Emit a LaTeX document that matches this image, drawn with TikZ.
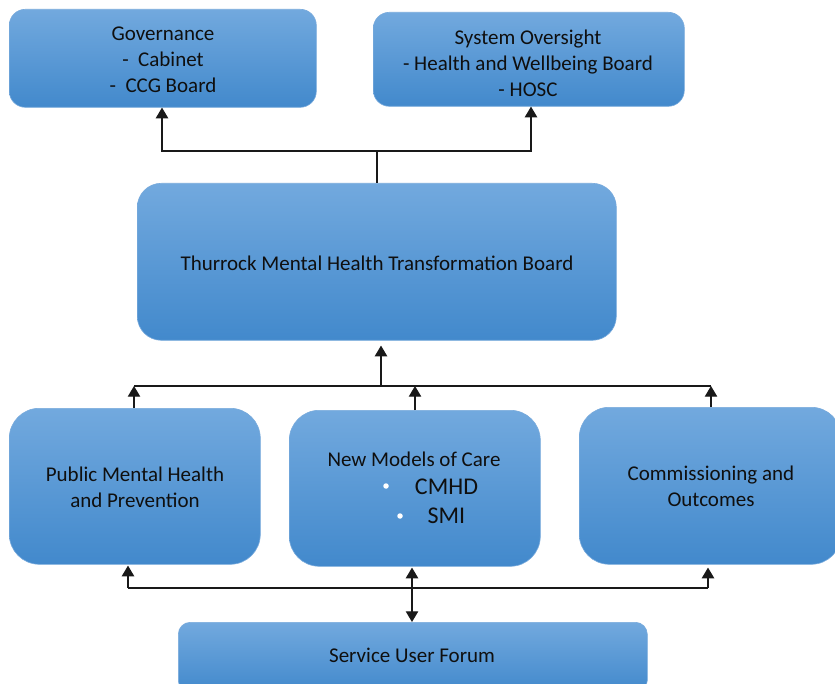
\documentclass[tikz,border=0pt]{standalone}
\usepackage{fontspec}
\setmainfont{Carlito}
\usetikzlibrary{arrows.meta}
\definecolor{boxtop}{RGB}{114,169,222}
\definecolor{boxbot}{RGB}{66,137,204}
\definecolor{boxline}{RGB}{120,170,220}
\definecolor{txt}{RGB}{15,15,15}
\tikzset{
  box/.style={draw=boxline, line width=0.6pt, top color=boxtop, bottom color=boxbot, inner sep=0pt, anchor=north west},
  lbl/.style={text=txt, font=\fontsize{21}{26}\selectfont, align=center, inner sep=0pt},
  big/.style={text=txt, font=\fontsize{24}{28}\selectfont, inner sep=0pt},
  conn/.style={line width=1.4pt, draw=black!90},
  arr/.style={conn, -{Triangle[scale=1.6]}},
  darr/.style={conn, {Triangle[scale=1.6]}-{Triangle[scale=1.6]}},
  dot/.style={circle, fill=white, inner sep=0pt, minimum size=5.5pt}
}
\begin{document}
\begin{tikzpicture}[x=1pt,y=-1pt]
\useasboundingbox (0,0) rectangle (835,684);
\clip (0,0) rectangle (835,684);
\fill[white] (0,0) rectangle (835,684);
% boxes
\node[box, rounded corners=16pt, minimum width=307pt, minimum height=98pt] (gov) at (9,9) {};
\node[box, rounded corners=16pt, minimum width=311pt, minimum height=94pt] (sys) at (373,12) {};
\node[box, rounded corners=24pt, minimum width=479pt, minimum height=157pt] (thr) at (137,183) {};
\node[box, rounded corners=30pt, minimum width=251pt, minimum height=156pt] (pub) at (9,408) {};
\node[box, rounded corners=30pt, minimum width=251pt, minimum height=156pt] (nmc) at (289,410) {};
\node[box, rounded corners=30pt, minimum width=262pt, minimum height=157pt] (com) at (579,407) {};
\node[box, rounded corners=12pt, minimum width=469pt, minimum height=70pt] (suf) at (178,622) {};
% texts
\node[lbl] (govt) at (163,60) {Governance\\-\ \ Cabinet\\-\ \ CCG Board};
\node[lbl] (syst) at (528,63) {System Oversight\\- Health and Wellbeing Board\\- HOSC};
\node[lbl] (thrt) at (377,263) {Thurrock Mental Health Transformation Board};
\node[lbl] (pubt) at (135,487) {Public Mental Health\\and Prevention};
\node[lbl] (nmct) at (414,459) {New Models of Care};
\node[big] (cmhd) at (446.5,487) {CMHD};
\node[big] (smi) at (446.5,516) {SMI};
\node[dot] (d1) at (386,486) {};
\node[dot] (d2) at (400,516) {};
\node[lbl] (comt) at (711,486) {Commissioning and\\Outcomes};
\node[lbl] (suft) at (412,655) {Service User Forum};
% top connectors
\coordinate (tj) at (377,151);
\coordinate (tl) at (162,151);
\coordinate (tr) at (531,151);
\draw[conn] (thr.north -| tj) -- (tj);
\draw[arr] (tj) -- (tl) -- (tl |- gov.south);
\draw[arr] (tj) -- (tr) -- (tr |- sys.south);
% middle connectors
\coordinate (mj) at (381,386);
\coordinate (ml) at (134,386);
\coordinate (mm) at (415,386);
\coordinate (mr) at (711,386);
\draw[arr] (mj) -- ([yshift=-5pt]thr.south -| mj);
\draw[conn] (ml) -- (mr);
\draw[arr] (pub.north -| ml) -- (ml);
\draw[arr] (nmc.north -| mm) -- (mm);
\draw[arr] (com.north -| mr) -- (mr);
% bottom connectors
\coordinate (bl) at (128,588);
\coordinate (br) at (708,588);
\coordinate (bm) at (412,588);
\draw[conn] (bl) -- (br);
\draw[arr] (bl) -- ([yshift=-1pt]pub.south -| bl);
\draw[arr] (br) -- ([yshift=-3pt]com.south -| br);
\draw[darr] ([yshift=-1pt]nmc.south -| bm) -- (suf.north -| bm);
\end{tikzpicture}
\end{document}
